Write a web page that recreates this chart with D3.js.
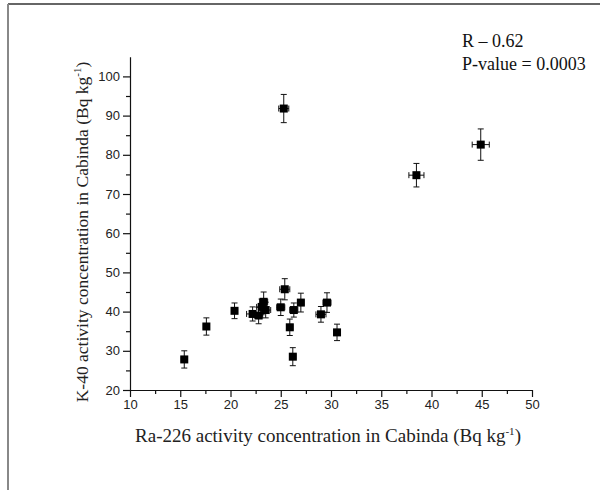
<!DOCTYPE html>
<html>
<head>
<meta charset="utf-8">
<script src="https://cdn.jsdelivr.net/npm/d3@7"></script>
<style>
  body { margin: 0; background: #fff; }
  .tick text { font-family: "Liberation Sans", Arial, sans-serif; font-size: 13px; fill: #222; }
</style>
</head>
<body>
<div class="container"></div>
<script>
// Ra-226 (x) vs K-40 (y), Cabinda samples
let raX  = [15.4, 17.6, 20.4, 22.2, 22.8, 23.1, 23.3, 23.5, 25.0, 25.4, 25.9, 26.3, 26.2, 27.0, 29.0, 29.6, 30.6, 25.3, 38.5, 44.9]
let kY   = [27.8, 36.2, 40.2, 39.4, 39.0, 41.2, 42.5, 40.4, 41.1, 45.7, 36.0, 40.4, 28.5, 42.3, 39.3, 42.3, 34.7, 91.8, 74.8, 82.6]
let xErr = [0.3, 0.3, 0.3, 0.6, 0.4, 0.5, 0.4, 0.5, 0.4, 0.5, 0.3, 0.4, 0.3, 0.3, 0.5, 0.4, 0.3, 0.5, 0.75, 0.85]
let yErr = [2.2, 2.2, 2.0, 1.8, 2.1, 2.0, 2.5, 2.0, 2.1, 2.7, 2.1, 1.8, 2.3, 2.4, 2.0, 2.5, 2.1, 3.6, 3.0, 4.0]

let xTicks = [10, 15, 20, 25, 30, 35, 40, 45, 50]
let yTicks = [20, 30, 40, 50, 60, 70, 80, 90, 100]
let stats = ['R \u2013 0.62', 'P-value = 0.0003']

let data = raX.map((x, i) => ({x: x, y: kY[i], ex: xErr[i], ey: yErr[i]}))

let svg = d3.select('.container')
    .append('svg')
    .attr('width', 600)
    .attr('height', 490)

// picture frame
svg.append('line')
    .attr('x1', 8).attr('y1', 4).attr('x2', 600).attr('y2', 4)
    .attr('stroke', '#333').attr('stroke-width', 1.5)
svg.append('line')
    .attr('x1', 8).attr('y1', 4).attr('x2', 8).attr('y2', 490)
    .attr('stroke', '#888').attr('stroke-width', 2)

let x = d3.scaleLinear().domain([10, 50]).range([130, 532])
let y = d3.scaleLinear().domain([20, 105]).range([390, 56.8])

// minor ticks
let xMinor = d3.range(12.5, 50, 5)
let yMinor = d3.range(25, 105, 10)

svg.append('g')
    .attr('transform', 'translate(0,390)')
    .call(d3.axisBottom(x).tickValues(xMinor).tickSize(4).tickFormat(''))
    .call(g => g.select('.domain').remove())
svg.append('g')
    .attr('transform', 'translate(130,0)')
    .call(d3.axisLeft(y).tickValues(yMinor).tickSize(4).tickFormat(''))
    .call(g => g.select('.domain').remove())

let xAxis = svg.append('g')
    .attr('transform', 'translate(0,390)')
    .call(d3.axisBottom(x).tickValues(xTicks).tickSize(7).tickSizeOuter(0).tickPadding(3))
let yAxis = svg.append('g')
    .attr('transform', 'translate(130,0)')
    .call(d3.axisLeft(y).tickValues(yTicks).tickSize(7).tickSizeOuter(0).tickPadding(3))

svg.selectAll('.domain, .tick line').attr('stroke', '#111').attr('stroke-width', 1.2)

// error bars
let cap = 3
let bars = svg.append('g').attr('stroke', '#111').attr('stroke-width', 1)
data.forEach(d => {
    bars.append('line')
        .attr('x1', x(d.x)).attr('x2', x(d.x))
        .attr('y1', y(d.y - d.ey)).attr('y2', y(d.y + d.ey))
    bars.append('line')
        .attr('x1', x(d.x) - cap).attr('x2', x(d.x) + cap)
        .attr('y1', y(d.y + d.ey)).attr('y2', y(d.y + d.ey))
    bars.append('line')
        .attr('x1', x(d.x) - cap).attr('x2', x(d.x) + cap)
        .attr('y1', y(d.y - d.ey)).attr('y2', y(d.y - d.ey))
    bars.append('line')
        .attr('x1', x(d.x - d.ex)).attr('x2', x(d.x + d.ex))
        .attr('y1', y(d.y)).attr('y2', y(d.y))
    bars.append('line')
        .attr('x1', x(d.x - d.ex)).attr('x2', x(d.x - d.ex))
        .attr('y1', y(d.y) - cap).attr('y2', y(d.y) + cap)
    bars.append('line')
        .attr('x1', x(d.x + d.ex)).attr('x2', x(d.x + d.ex))
        .attr('y1', y(d.y) - cap).attr('y2', y(d.y) + cap)
})

// markers
svg.selectAll('rect.pt')
    .data(data)
    .enter().append('rect')
    .attr('class', 'pt')
    .attr('x', d => x(d.x) - 4)
    .attr('y', d => y(d.y) - 4)
    .attr('width', 8)
    .attr('height', 8)
    .style('fill', '#000')

let serif = '"Liberation Serif", "Times New Roman", serif'

// stats text
svg.selectAll('text.stat')
    .data(stats)
    .enter().append('text')
    .attr('class', 'stat')
    .attr('x', 462)
    .attr('y', (d, i) => 47 + i * 23)
    .style('font-family', serif)
    .style('font-size', '18px')
    .style('fill', '#111')
    .text(d => d)

// axis titles
let xt = svg.append('text')
    .attr('x', 328)
    .attr('y', 442)
    .attr('text-anchor', 'middle')
    .style('font-family', serif)
    .style('font-size', '19px')
    .style('fill', '#222')
xt.append('tspan').text('Ra-226 activity concentration in Cabinda (Bq kg')
xt.append('tspan').attr('dy', -7).style('font-size', '11px').text('-1')
xt.append('tspan').attr('dy', 7).text(')')

let yt = svg.append('text')
    .attr('transform', 'translate(88,232) rotate(-90)')
    .attr('text-anchor', 'middle')
    .style('font-family', serif)
    .style('font-size', '17.5px')
    .style('fill', '#222')
yt.append('tspan').text('K-40 activity concentration in Cabinda (Bq kg')
yt.append('tspan').attr('dy', -7).style('font-size', '11px').text('-1')
yt.append('tspan').attr('dy', 7).text(')')
</script>
</body>
</html>
